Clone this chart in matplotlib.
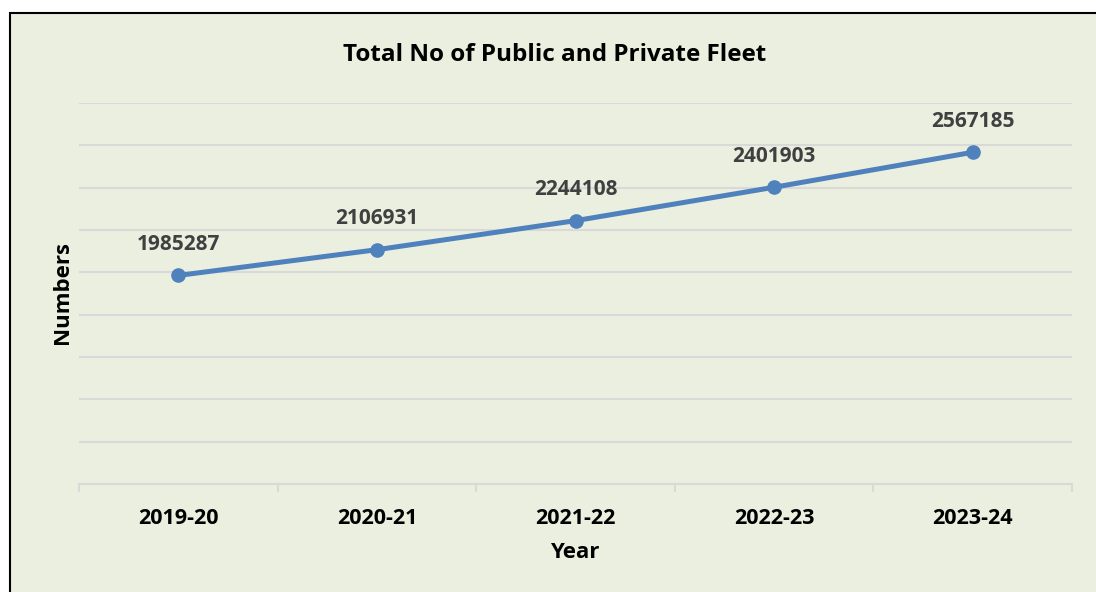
import matplotlib.pyplot as plt
from matplotlib.patches import Rectangle

plt.rcParams['font.family'] = ['Open Sans', 'DejaVu Sans']

years = ['2019-20', '2020-21', '2021-22', '2022-23', '2023-24']
fleet = [1985287, 2106931, 2244108, 2401903, 2567185]

bg = '#EBEFDF'
fig = plt.figure(figsize=(10.96, 5.92), dpi=100, facecolor='white')
fig.patches.append(Rectangle((10 / 1096, -0.1), 1.2, 1 - 13 / 592 + 0.1,
                             transform=fig.transFigure, facecolor=bg,
                             edgecolor='black', linewidth=1.5, zorder=-1))

ax = fig.add_axes([79 / 1096, 1 - 484 / 592, (1072 - 79) / 1096, (484 - 103) / 592])
ax.set_facecolor('none')
x = list(range(len(years)))
ax.plot(x, fleet, color='#4F81BD', linewidth=3.6, marker='o', markersize=9.5,
        solid_capstyle='round', zorder=3)
for xi, v in zip(x, fleet):
    ax.annotate(str(v), (xi, v), xytext=(0, 22.5), textcoords='offset points',
                ha='center', va='center', fontsize=15, fontweight='bold', color='#404040')

ax.set_xlim(-0.5, 4.5)
ax.set_ylim(1000000, 2800000)
ax.set_yticks(range(1000000, 2800001, 200000))
ax.tick_params(axis='y', left=False, labelleft=False)
ax.grid(axis='y', color='#D9D9D9', linewidth=1.5)
ax.set_axisbelow(True)
ax.set_xticks(x)
ax.set_xticklabels(years, fontsize=15.5, fontweight='bold')
ax.set_xticks([i - 0.5 for i in range(6)], minor=True)
ax.tick_params(axis='x', which='major', length=0, pad=17)
ax.tick_params(axis='x', which='minor', length=6, width=1.5, color='#D9D9D9')
for s in ['top', 'right', 'left']:
    ax.spines[s].set_visible(False)
ax.spines['bottom'].set_color('#D9D9D9')
ax.spines['bottom'].set_linewidth(1.5)

fig.text(555 / 1096, 1 - 55 / 592, 'Total No of Public and Private Fleet',
         ha='center', va='center', fontsize=17.5, fontweight='bold')
fig.text(575 / 1096, 1 - 553 / 592, 'Year', ha='center', va='center',
         fontsize=16, fontweight='bold')
fig.text(62 / 1096, 1 - 292 / 592, 'Numbers', ha='center', va='center',
         rotation=90, fontsize=16, fontweight='bold')

fig.savefig('out.png', dpi=100, facecolor='white')
